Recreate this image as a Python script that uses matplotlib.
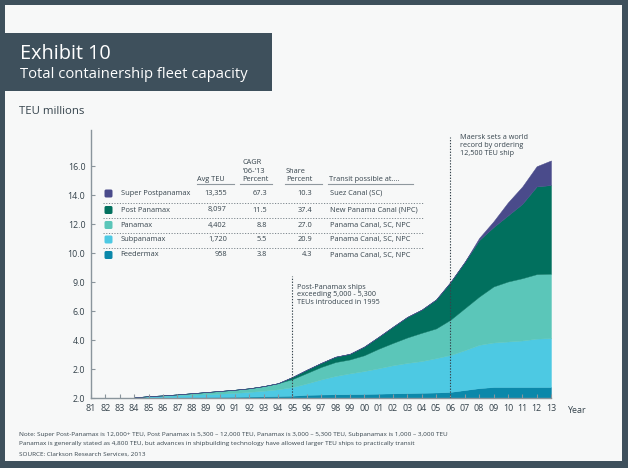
import matplotlib
matplotlib.use('Agg')
import matplotlib.pyplot as plt
from matplotlib.patches import Rectangle, FancyBboxPatch
from matplotlib.lines import Line2D

# ---------------- data ----------------
years = list(range(1984, 2014))
feedermax = [0.01, 0.03, 0.04, 0.05, 0.06, 0.07, 0.08, 0.09, 0.10, 0.12, 0.14, 0.16,
             0.22, 0.24, 0.26, 0.27, 0.28, 0.30, 0.32, 0.34, 0.36, 0.38, 0.42, 0.55,
             0.68, 0.76, 0.76, 0.76, 0.76, 0.76]
subpanamax = [0.02, 0.07, 0.10, 0.13, 0.16, 0.19, 0.22, 0.26, 0.32, 0.38, 0.46, 0.59,
              0.78, 1.04, 1.26, 1.43, 1.58, 1.75, 1.94, 2.08, 2.19, 2.37, 2.55, 2.75,
              2.99, 3.07, 3.14, 3.21, 3.34, 3.37]
panamax = [0.01, 0.03, 0.04, 0.07, 0.11, 0.15, 0.19, 0.22, 0.25, 0.32, 0.42, 0.55,
           0.72, 0.86, 0.96, 0.96, 1.09, 1.35, 1.54, 1.76, 1.95, 2.05, 2.43, 2.90,
           3.33, 3.87, 4.14, 4.30, 4.45, 4.45]
post_panamax = [0, 0, 0, 0, 0, 0, 0, 0, 0, 0, 0, 0.15,
                0.23, 0.28, 0.37, 0.39, 0.60, 0.82, 1.12, 1.42, 1.60, 2.00, 2.60, 3.20,
                3.90, 4.10, 4.56, 5.13, 6.05, 6.12]
super_postpanamax = [0, 0, 0, 0, 0, 0, 0, 0, 0, 0, 0, 0,
                     0, 0, 0, 0, 0, 0, 0, 0, 0, 0, 0, 0,
                     0.15, 0.40, 0.90, 1.20, 1.40, 1.70]

x_ticks = list(range(1981, 2014))
x_tick_labels = ['81', '82', '83', '84', '85', '86', '87', '88', '89', '90', '91',
                 '92', '93', '94', '95', '96', '97', '98', '99', '00', '01', '02',
                 '03', '04', '05', '06', '07', '08', '09', '10', '11', '12', '13']
y_ticks = [0, 2, 4, 6, 8, 10, 12, 14, 16]
y_tick_labels = ['2.0', '2.0', '4.0', '6.0', '9.0', '10.0', '12.0', '14.0', '16.0']

class_names = ['Super Postpanamax', 'Post Panamax', 'Panamax', 'Subpanamax', 'Feedermax']
avg_teu = ['13,355', '8,097', '4,402', '1,720', '958']
cagr = ['67.3', '11.5', '8.8', '5.5', '3.8']
share = ['10.3', '37.4', '27.0', '20.9', '4.3']
transit = ['Suez Canal (SC)', 'New Panama Canal (NPC)', 'Panama Canal, SC, NPC',
           'Panama Canal, SC, NPC', 'Panama Canal, SC, NPC']

# ---------------- style ----------------
plt.rcParams['font.family'] = ['Open Sans', 'DejaVu Sans']
C_SUPER = '#4a4b8b'
C_POST = '#01705e'
C_PAN = '#5bc6b9'
C_SUB = '#4dc9e3'
C_FEED = '#0b88aa'
row_colors = [C_SUPER, C_POST, C_PAN, C_SUB, C_FEED]
FRAME = '#3e505c'
BG = '#f7f8f8'
TXT = '#35434c'
AXC = '#8a959c'

W, H = 628, 468
fig = plt.figure(figsize=(W / 100, H / 100), dpi=100)
fig.patch.set_facecolor(FRAME)


def fx(x):
    return x / W


def fy(y):
    return 1 - y / H


# inner background
fig.patches.append(Rectangle((fx(5), fy(461)), fx(617), (456) / H,
                             transform=fig.transFigure, facecolor=BG,
                             edgecolor='none', zorder=-10))
# title box
fig.patches.append(Rectangle((fx(5), fy(91)), fx(267), 58 / H,
                             transform=fig.transFigure, facecolor=FRAME,
                             edgecolor='none', zorder=-5))
fig.text(fx(20), fy(59), 'Exhibit 10', color='white', fontsize=14.3,
         va='baseline', ha='left')
fig.text(fx(20), fy(78.5), 'Total containership fleet capacity', color='white',
         fontsize=10.6, va='baseline', ha='left')
fig.text(fx(19), fy(114), 'TEU millions', color=TXT, fontsize=8.2,
         va='baseline', ha='left')

# ---------------- axes ----------------
ax = fig.add_axes([fx(91), fy(398), 460 / W, 268 / H])
ax.set_facecolor('none')
ax.set_zorder(1)
polys = ax.stackplot(years, feedermax, subpanamax, panamax, post_panamax,
                     super_postpanamax,
                     colors=[C_FEED, C_SUB, C_PAN, C_POST, C_SUPER])
for p in polys:
    p.set_edgecolor('face')
    p.set_linewidth(0.3)

ax.set_xlim(1981, 2013)
ax.set_ylim(0, 18.5)
ax.set_xticks(x_ticks)
ax.set_xticklabels(x_tick_labels)
ax.set_yticks(y_ticks)
ax.set_yticklabels(y_tick_labels)
for s in ['top', 'right']:
    ax.spines[s].set_visible(False)
for s in ['left', 'bottom']:
    ax.spines[s].set_color(AXC)
    ax.spines[s].set_linewidth(1.0)
ax.tick_params(direction='in', length=3, width=0.8, color=AXC,
               labelsize=6.4, labelcolor=TXT)
ax.tick_params(axis='y', pad=4)
ax.tick_params(axis='x', pad=4)

# vertical dotted lines
ax.vlines(1995, 0, 8.4, colors=TXT, linestyles=(0, (1.2, 1.4)), linewidth=0.8)
ax.vlines(2006, 0, 18.0, colors=TXT, linestyles=(0, (1.2, 1.4)), linewidth=0.8)
ax.text(1995.35, 7.9, 'Post-Panamax ships\nexceeding 5,000 - 5,300\nTEUs introduced in 1995',
        fontsize=5.2, color=TXT, va='top', ha='left', linespacing=1.15)
ax.text(2006.65, 18.2, 'Maersk sets a world\nrecord by ordering\n12,500 TEU ship',
        fontsize=5.2, color=TXT, va='top', ha='left', linespacing=1.15)

fig.text(fx(568), fy(413), 'Year', fontsize=6.4, color=TXT, va='baseline', ha='left')

# ---------------- legend table ----------------
fs_t = 5.3
fig.text(fx(197), fy(181), 'Avg TEU', fontsize=fs_t, color=TXT, va='baseline', ha='left')
fig.text(fx(242), fy(181), "CAGR\n'06-'13\nPercent", fontsize=fs_t, color=TXT,
         va='baseline', ha='left', linespacing=1.25)
fig.text(fx(286), fy(181), 'Share\nPercent', fontsize=fs_t, color=TXT,
         va='baseline', ha='left', linespacing=1.25)
fig.text(fx(329), fy(181), 'Transit possible at....', fontsize=fs_t, color=TXT,
         va='baseline', ha='left')
for x0, x1 in [(197, 234), (240, 272), (285, 322), (328, 413)]:
    fig.add_artist(Line2D([fx(x0), fx(x1)], [fy(184), fy(184)], color='#8f989e',
                          linewidth=0.8, transform=fig.transFigure))

row_y = [193.5, 210, 225, 239.5, 255]
sq = 8.0
for i, yc in enumerate(row_y):
    fig.patches.append(FancyBboxPatch((fx(104.5), fy(yc + sq / 2)), fx(sq), sq / H,
                                      boxstyle='round,pad=0,rounding_size=0.0025',
                                      mutation_aspect=W / H,
                                      transform=fig.transFigure,
                                      facecolor=row_colors[i], edgecolor='none'))
    fig.text(fx(120.5), fy(yc), class_names[i], fontsize=fs_t, color=TXT,
             va='center', ha='left')
    fig.text(fx(227), fy(yc), avg_teu[i], fontsize=fs_t, color=TXT, va='center', ha='right')
    fig.text(fx(267), fy(yc), cagr[i], fontsize=fs_t, color=TXT, va='center', ha='right')
    fig.text(fx(312), fy(yc), share[i], fontsize=fs_t, color=TXT, va='center', ha='right')
    fig.text(fx(330), fy(yc), transit[i], fontsize=fs_t, color=TXT, va='center', ha='left')
for ys in [202.5, 218, 232.5, 247.5]:
    fig.add_artist(Line2D([fx(103), fx(423)], [fy(ys), fy(ys)], color='#7d878d',
                          linewidth=0.7, linestyle=(0, (1.2, 1.6)),
                          transform=fig.transFigure))

# ---------------- footnote ----------------
fs_n = 4.6
fig.text(fx(19), fy(436), 'Note: Super Post-Panamax is 12,000+ TEU, Post Panamax is 5,300 \u2013 12,000 TEU, '
         'Panamax is 3,000 \u2013 5,300 TEU, Subpanamax is 1,000 \u2013 3,000 TEU',
         fontsize=fs_n, color=TXT, va='baseline', ha='left')
fig.text(fx(19), fy(445), 'Panamax is generally stated as 4,800 TEU, but advances in shipbuilding '
         'technology have allowed larger TEU ships to practically transit',
         fontsize=fs_n, color=TXT, va='baseline', ha='left')
fig.text(fx(19), fy(455.5), 'SOURCE: Clarkson Research Services, 2013',
         fontsize=fs_n, color=TXT, va='baseline', ha='left')

fig.savefig('out.png', dpi=100, facecolor=FRAME)
